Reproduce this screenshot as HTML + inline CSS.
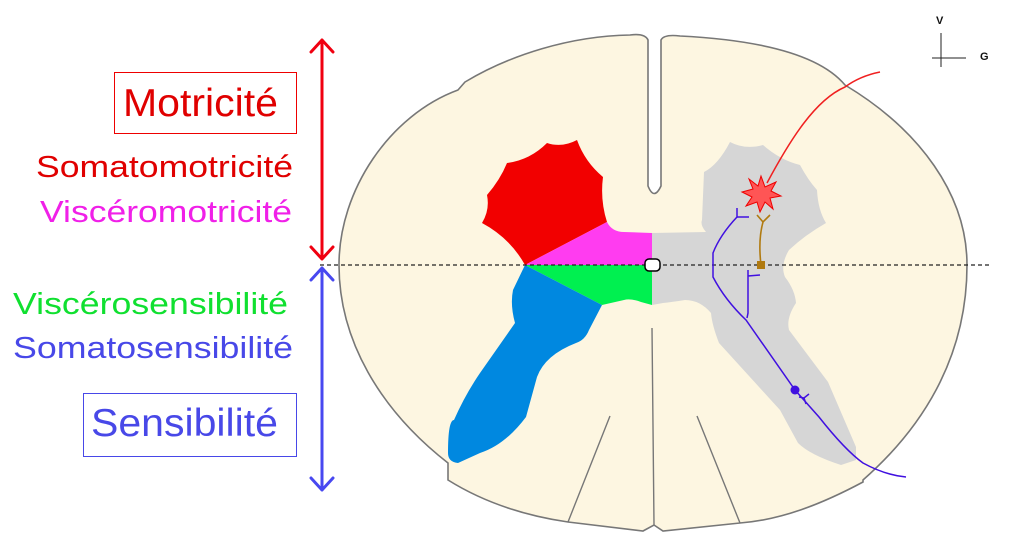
<!DOCTYPE html>
<html><head><meta charset="utf-8"><style>
html,body{margin:0;padding:0;background:#fff;}
svg{display:block;}
text{font-family:"Liberation Sans",Arial,sans-serif;}
</style></head><body>
<svg width="1012" height="553" viewBox="0 0 1012 553" xmlns="http://www.w3.org/2000/svg">
<path d="M648,40 L648,186 Q654,201 661,186 L661,40 Q664,34 680,36 C760,40 820,55 845,85 C920,130 967,195 967,265 C967,360 920,430 863,480 L863,482 C820,505 780,520 740,523 L663,531 L654,525 L643,531 L568,522 C520,515 480,500 448,480 L448,463 C380,410 339,340 339,265 C339,190 390,115 458,90 L465,82 C510,55 570,36 630,35 Q645,33 648,40 Z" fill="#fdf6e1" stroke="#777" stroke-width="1.6"/>
<path d="M652,233 L706,232 Q700,225 702,220 L704,172 Q718,165 730,142 Q745,150 763,145 Q780,160 800,165 Q808,180 817,190 Q818,210 826,223 Q805,235 789,250 Q780,265 785,277 Q795,290 796,303 Q786,318 789,330 L828,382 L856,447 L856,460 L841,465 Q810,455 798,443 L780,410 L719,343 Q712,325 711,313 Q700,300 685,300 Q672,302 663,303 L652,305 Z" fill="#d6d6d6"/>
<path d="M482,223 Q490,210 487,195 Q500,180 507,163 Q530,160 547,143 Q562,148 577,140 Q585,162 603,177 Q600,200 607,222 L525,265 Q510,238 482,223 Z" fill="#f20000"/>
<path d="M525,265 L607,222 Q612,232 624,232 L652,233 L652,265 Z" fill="#ff3cf0"/>
<path d="M525,265 L652,265 L652,305 L641,302 Q630,298 624,300 L602,305 Z" fill="#00f050"/>
<path d="M525,265 L602,305 L589,330 Q585,340 576,343 Q545,355 537,377 L526,417 Q505,445 480,453 L458,463 Q448,462 448,453 Q448,420 454,420 Q465,395 480,373 L515,323 Q510,305 513,290 Z" fill="#0088e0"/>
<path d="M610,416 L568,522 M697,416 L740,523 M652,328 L654,525" stroke="#777" stroke-width="1.4" fill="none"/>
<line x1="320" y1="265" x2="990" y2="265" stroke="#222" stroke-width="1.2" stroke-dasharray="4,3"/>
<rect x="645" y="259" width="15" height="12" rx="4" fill="#fff" stroke="#000" stroke-width="1.5"/>
<path d="M767,183 C790,140 815,100 845,87 Q860,76 880,72" stroke="#f02020" stroke-width="1.5" fill="none"/>
<polygon points="761,176 765,187 776,182 771,191 781,196 770,198 773,209 765,202 760,212 757,202 746,206 752,197 742,192 753,189 749,179 758,186" fill="#f55" stroke="#e00" stroke-width="1"/>
<path d="M763,222 Q758,240 761,265 M757,215 L763,222 L770,215" stroke="#b07a10" stroke-width="1.6" fill="none"/>
<rect x="757" y="261" width="8" height="8" fill="#b07a10"/>
<g stroke="#4010e0" stroke-width="1.5" fill="none">
<path d="M737,208 L737,217 Q720,235 713,253 L713,277 Q725,300 746,320 L795,390 L819,417 Q845,450 863,463 Q885,475 906,477"/>
<path d="M737,217 L749,217"/>
<path d="M748,270 L748,313 L747,318 M748,276 L760,275"/>
<path d="M799,397 L804,398 L809,394 M804,398 L806,404"/>
</g>
<circle cx="795" cy="390" r="4.5" fill="#4010e0"/>
<text x="936" y="24" font-size="11" font-weight="bold" fill="#111">V</text>
<line x1="941" y1="33" x2="941" y2="67" stroke="#222" stroke-width="1"/>
<line x1="932" y1="58" x2="966" y2="58" stroke="#222" stroke-width="1"/>
<text x="980" y="60" font-size="11" font-weight="bold" fill="#111">G</text>
<g stroke-width="3" fill="none" stroke-linecap="round" stroke-linejoin="round">
<path d="M322,40 L322,259 M311,52 L322,40 L333,52 M311,247 L322,259 L333,247" stroke="#f00010"/>
<path d="M322,268 L322,490 M311,280 L322,268 L333,280 M311,478 L322,490 L333,478" stroke="#4848f0"/>
</g>
<rect x="114.5" y="72.5" width="182" height="61" fill="none" stroke="#e00" stroke-width="1"/>
<text x="123" y="116" font-size="39" fill="#e00000" textLength="155" lengthAdjust="spacingAndGlyphs">Motricité</text>
<text x="36" y="177" font-size="31" fill="#e00000" textLength="257" lengthAdjust="spacingAndGlyphs">Somatomotricité</text>
<text x="40" y="222" font-size="31" fill="#f020e8" textLength="252" lengthAdjust="spacingAndGlyphs">Viscéromotricité</text>
<text x="13" y="314" font-size="31" fill="#10e030" textLength="275" lengthAdjust="spacingAndGlyphs">Viscérosensibilité</text>
<text x="13" y="358" font-size="31" fill="#4848e8" textLength="280" lengthAdjust="spacingAndGlyphs">Somatosensibilité</text>
<rect x="83.5" y="393.5" width="213" height="63" fill="none" stroke="#4848e8" stroke-width="1"/>
<text x="91" y="436" font-size="39" fill="#4848e8" textLength="187" lengthAdjust="spacingAndGlyphs">Sensibilité</text>
</svg>
</body></html>
